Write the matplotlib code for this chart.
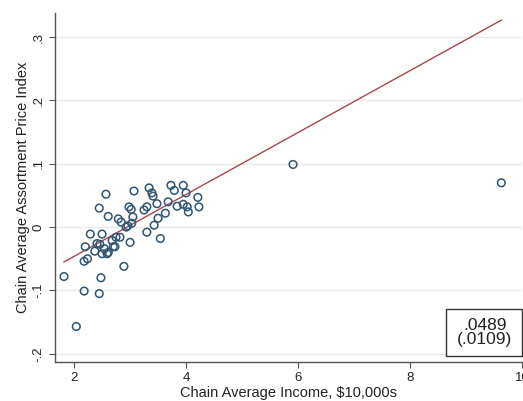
import numpy as np
import matplotlib
matplotlib.use('Agg')
import matplotlib.pyplot as plt
from matplotlib.patches import Rectangle

plt.rcParams['font.family'] = ['Liberation Sans', 'DejaVu Sans']

# chain average income ($10,000s) and assortment price index
income = [1.82, 2.04, 2.18, 2.45, 2.48, 2.89, 2.45, 2.61, 2.29, 2.50,
          2.20, 2.18, 2.24, 2.37, 2.41, 2.46, 2.50, 2.54, 2.59, 2.61,
          2.68, 2.70, 2.73, 2.75, 2.82, 2.79, 2.84, 2.93, 2.96, 3.00,
          2.98, 3.02, 3.05, 3.03, 3.25, 3.30, 3.30, 3.43, 3.48, 3.50,
          3.54, 3.63, 3.68, 3.84, 3.95, 4.02, 4.04, 4.23, 2.57, 3.07,
          3.34, 3.39, 3.73, 3.79, 3.95, 4.00, 4.21, 3.41, 5.91, 9.63]
price_idx = [-0.078, -0.157, -0.101, -0.105, -0.080, -0.062, 0.030, 0.017, -0.011, -0.011,
             -0.031, -0.054, -0.050, -0.038, -0.026, -0.027, -0.042, -0.034, -0.042, -0.040,
             -0.021, -0.031, -0.031, -0.016, -0.016, 0.013, 0.008, 0.000, 0.002, -0.024,
             0.032, 0.028, 0.016, 0.006, 0.027, 0.032, -0.008, 0.003, 0.037, 0.014,
             -0.018, 0.022, 0.040, 0.033, 0.036, 0.032, 0.024, 0.032, 0.052, 0.057,
             0.062, 0.054, 0.066, 0.058, 0.066, 0.054, 0.047, 0.049, 0.099, 0.070]

# fitted line: intercept, slope (se)
intercept = -0.144
slope = 0.0489
slope_se = 0.0109

yticks = [-0.2, -0.1, 0, 0.1, 0.2, 0.3]
ytick_labels = ['-.2', '-.1', '0', '.1', '.2', '.3']
xticks = [2, 4, 6, 8, 10]

fig = plt.figure(figsize=(5.23, 4.01), dpi=100)
ax = fig.add_axes([0.1052, 0.0973, 0.893, 0.870])

for yv in yticks:
    ax.axhline(yv, color='#eaeaea', lw=1.0, zorder=0)

ax.scatter(income, price_idx, s=30, facecolors='none', edgecolors='#2f5573',
           linewidths=1.1, zorder=3)

xs = np.array([min(income), max(income)])
ax.plot(xs, intercept + slope * xs, color='#a8474d', lw=1.0, zorder=2)

ax.set_xlim(1.66, 10)
ax.set_ylim(-0.213, 0.338)
ax.set_xticks(xticks)
ax.set_xticklabels([str(v) for v in xticks])
ax.set_yticks(yticks)
ax.set_yticklabels(ytick_labels, rotation=90, va='center')

for s in ['top', 'right']:
    ax.spines[s].set_visible(False)
for s in ['left', 'bottom']:
    ax.spines[s].set_color('#555555')
    ax.spines[s].set_linewidth(1.0)
ax.tick_params(labelsize=9.5, length=4, color='#555555', labelcolor='#222222')

ax.set_xlabel(r'Chain Average Income, \$10,000s', fontsize=10.5, color='#222222', labelpad=1)
ax.set_ylabel('Chain Average Assortment Price Index', fontsize=10.5, color='#222222', labelpad=2)

# coefficient box
fig.patches.append(Rectangle((0.853, 0.112), 0.145, 0.117, transform=fig.transFigure,
                             facecolor='white', edgecolor='#333333', lw=1.0, zorder=5))
fig.text(0.927, 0.171, '%s\n(%s)' % (('%.4f' % slope)[1:], ('%.4f' % slope_se)[1:]),
         ha='center', va='center', fontsize=12.5, color='#222222', linespacing=0.95, zorder=6)

fig.savefig('out.png', dpi=100)
